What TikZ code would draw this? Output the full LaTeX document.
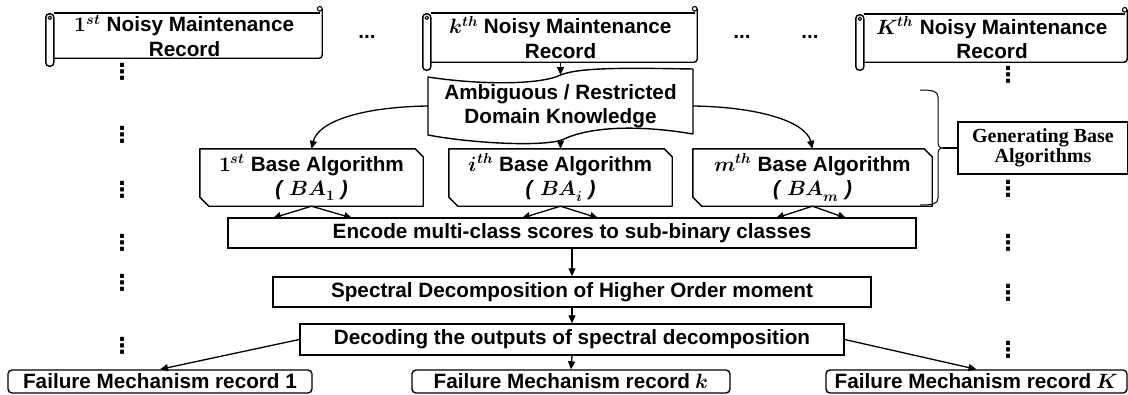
\documentclass[tikz,border=0pt]{standalone}
\usepackage{fontspec}
\usepackage{unicode-math}
\setmainfont{Liberation Sans}
\setmathfont{Latin Modern Math}
\newfontfamily\gensrf{Liberation Serif}
\newfontfamily\vdfont{DejaVu Sans}
\usetikzlibrary{arrows.meta,calc}
\tikzset{
  shp/.style={line width=1.4pt, line join=round},
  txt/.style={font=\fontsize{20.7}{24.5}\selectfont\bfseries, align=center, inner sep=0pt},
  bx/.style={txt, draw, line width=1.4pt},
  fbx/.style={bx, rounded corners=4pt, minimum height=23pt},
  arr/.style={line width=1.3pt, -{Triangle[length=8pt,width=7pt]}},
  vd/.style={font=\vdfont\bfseries\fontsize{22}{22}\selectfont, inner sep=0pt},
  hd/.style={font=\fontsize{20.7}{24.5}\selectfont\bfseries, inner sep=0pt},
  gentxt/.style={font=\gensrf\bfseries\fontsize{20}{20}\selectfont, align=center, inner sep=0pt, draw, line width=1.4pt}
}
\newcommand{\bpl}{\textit{(}\ }
\newcommand{\bpr}{\ \textit{)}}
\newcommand{\scrollframe}[1]{%
  \draw[shp] ([xshift=7pt]#1.south west) -- ([xshift=-3pt]#1.south east)
     arc[start angle=-90, end angle=0, radius=3pt] -- ([yshift=4pt]#1.north east);
  \draw[shp] ([xshift=7pt]#1.north west) -- ([xshift=-2pt]#1.north east);
  \draw[shp, line width=1.1pt] ([xshift=-2.5pt,yshift=4pt]#1.north east) circle[radius=2.3pt];
  \draw[shp, rounded corners=3.5pt, fill=white] ([xshift=-1pt,yshift=-1pt]#1.north west) rectangle ([xshift=7pt,yshift=-8pt]#1.south west);
  \draw[shp, line width=1.1pt] ([xshift=3pt,yshift=-5pt]#1.north west) circle[radius=1.8pt];
}
\newcommand{\chamferframe}[1]{%
  \draw[shp] (#1.north west) -- ([xshift=-8pt]#1.north east) -- ([yshift=-8pt]#1.north east)
    -- (#1.south east) -- ([xshift=9pt]#1.south west) -- ([yshift=9pt]#1.south west) -- cycle;
}
\begin{document}
\begin{tikzpicture}[x=1pt, y=-1pt]
\useasboundingbox (0,0) rectangle (1128,394);

% records
\node[txt, minimum width=275pt, minimum height=45pt] (r1) at (184.5,35.5)
  {$\symbf{1}^{\symbfit{st}}$ Noisy Maintenance\\Record};
\node[txt, minimum width=273pt, minimum height=49pt] (rk) at (560.5,37.5)
  {$\symbfit{k}^{\symbfit{th}}$ Noisy Maintenance\\Record};
\node[txt, minimum width=270pt, minimum height=48pt] (rK) at (992,38)
  {$\symbfit{K}^{\symbfit{th}}$ Noisy Maintenance\\Record};
\scrollframe{r1}
\scrollframe{rk}
\scrollframe{rK}

% horizontal dots
\node[hd] (h1) at (367,37) {...};
\node[hd] (h2) at (742,37) {...};
\node[hd] (h3) at (810,37) {...};

% vertical dots
\node[vd] (vl1) at (122,72) {⋮};
\node[vd] (vl2) at (122,135) {⋮};
\node[vd] (vl3) at (122,190) {⋮};
\node[vd] (vl4) at (122,243) {⋮};
\node[vd] (vl5) at (122,283) {⋮};
\node[vd] (vl6) at (122,346) {⋮};
\node[vd] (vr1) at (1008,75) {⋮};
\node[vd] (vr2) at (1008,189) {⋮};
\node[vd] (vr3) at (1008,243) {⋮};
\node[vd] (vr4) at (1008,293) {⋮};
\node[vd] (vr5) at (1008,350) {⋮};

% tape
\node[txt, minimum width=265pt, minimum height=60pt] (tape) at (560.5,106)
  {Ambiguous / Restricted\\Domain Knowledge};
\draw[shp] (428,77) .. controls (480,85) and (540,85) .. (560.5,75)
  .. controls (580,67) and (630,68) .. (693,69) -- (693,134)
  .. controls (640,125) and (590,126) .. (562,140)
  .. controls (540,147) and (470,143) .. (428,135) -- cycle;
\coordinate (tt) at (560.5,75);
\coordinate (tb) at (560.5,140);
\draw[arr] (rk.south) -- (tt);

% base algorithms
\node[txt, minimum width=223pt, minimum height=57pt] (ba1) at (311.5,177.5)
  {$\symbf{1}^{\symbfit{st}}$ Base Algorithm\\\bpl$\symbfit{BA}_{\symbf{1}}$\bpr};
\node[txt, minimum width=223pt, minimum height=57pt] (bai) at (560.5,177.5)
  {$\symbfit{i}^{\symbfit{th}}$ Base Algorithm\\\bpl$\symbfit{BA}_{\symbfit{i}}$\bpr};
\node[txt, minimum width=239pt, minimum height=57pt] (bam) at (812.5,177.5)
  {$\symbfit{m}^{\symbfit{th}}$ Base Algorithm\\\bpl$\symbfit{BA}_{\symbfit{m}}$\bpr};
\chamferframe{ba1}
\chamferframe{bai}
\chamferframe{bam}

\draw[arr] (tape.west) .. controls (360,107) and (318,122) .. (ba1.north);
\draw[arr] (tb) -- (bai.north);
\draw[arr] (tape.east) .. controls (760,107) and (806,122) .. (bam.north);

% brace and label
\node[gentxt, minimum width=170pt, minimum height=52pt] (gen) at (1043,148)
  {Generating Base\\Algorithms};
\draw[line width=1pt] (920,90) .. controls (932,90) and (938,91) .. (938,97) -- (938,141)
  .. controls (938,146) and (939,148) .. (943,148)
  .. controls (939,148) and (938,150) .. (938,155) -- (938,198)
  .. controls (938,204) and (932,205) .. (920,205);
\coordinate (btip) at (943,148);
\draw[line width=1.2pt] (btip) -- (gen.west);

% encode
\node[bx, minimum width=688pt, minimum height=30pt] (enc) at (572,233)
  {Encode multi-class scores to sub-binary classes};
\coordinate (e1) at (273,218);
\coordinate (e2) at (352,218);
\coordinate (e3) at (522,218);
\coordinate (e4) at (598,218);
\coordinate (e5) at (776,218);
\coordinate (e6) at (846,218);
\draw[arr] (ba1.south) -- (e1);
\draw[arr] (ba1.south) -- (e2);
\draw[arr] (bai.south) -- (e3);
\draw[arr] (bai.south) -- (e4);
\draw[arr] (bam.south) -- (e5);
\draw[arr] (bam.south) -- (e6);

% spectral / decoding
\node[bx, minimum width=598pt, minimum height=30pt] (spec) at (572,292)
  {Spectral Decomposition of Higher Order moment};
\node[bx, minimum width=544pt, minimum height=31pt] (dec) at (572,339.5)
  {Decoding the outputs of spectral decomposition};
\draw[arr] (enc.south) -- (spec.north);
\draw[arr] (spec.south) -- (dec.north);

% failure records
\node[fbx, minimum width=304pt] (f1) at (160,381.5) {Failure Mechanism record 1};
\node[fbx, minimum width=318pt] (fk) at (571,381.5) {Failure Mechanism record $\symbfit{k}$};
\node[fbx, minimum width=301pt] (fK) at (976.5,381.5) {Failure Mechanism record $\symbfit{K}$};
\draw[arr] (dec.west) -- (f1.north);
\draw[arr] (dec.south) -- (fk.north);
\draw[arr] (dec.east) -- (fK.north);
\end{tikzpicture}
\end{document}
